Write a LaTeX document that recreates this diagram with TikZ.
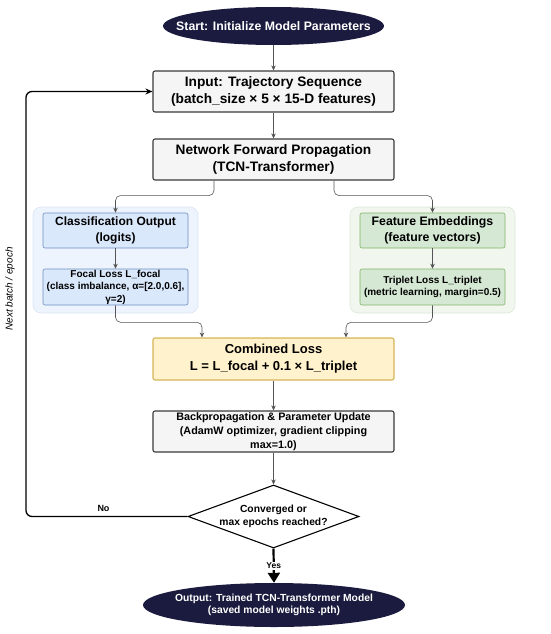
\documentclass[tikz,border=0pt]{standalone}
\usepackage{fontspec}
\setmainfont{Liberation Sans}
\usetikzlibrary{arrows.meta,shapes.geometric,calc}
\definecolor{navy}{HTML}{1B1B3F}
\definecolor{procfill}{HTML}{F5F5F5}
\definecolor{procline}{HTML}{3A3A3A}
\definecolor{clsfill}{HTML}{DAE8FC}
\definecolor{clsline}{HTML}{6C8EBF}
\definecolor{clsbg}{HTML}{EEF4FD}
\definecolor{clsbgline}{HTML}{D9E5F5}
\definecolor{embfill}{HTML}{D5E8D4}
\definecolor{embline}{HTML}{82B366}
\definecolor{embbg}{HTML}{F1F6EF}
\definecolor{embbgline}{HTML}{DCE9D8}
\definecolor{lossfill}{HTML}{FFF2CC}
\definecolor{lossline}{HTML}{D6B656}
\definecolor{flowgray}{HTML}{555555}
\newcommand{\fsz}[2]{\fontsize{#1}{#2}\selectfont\bfseries}

\begin{document}
\begin{tikzpicture}[x=1pt,y=1pt,
  terminal/.style={ellipse,fill=navy,text=white,inner xsep=-30pt,inner ysep=0pt,align=center},
  procbox/.style={draw=procline,fill=procfill,line width=1.1pt,rounded corners=2pt,
    minimum width=241pt,minimum height=41pt,inner sep=0pt,align=center},
  subbox/.style={draw=#1line,fill=#1fill,line width=0.6pt,rounded corners=2pt,
    minimum width=145pt,minimum height=35pt,inner sep=0pt,align=center},
  group/.style={draw=#1bgline,fill=#1bg,line width=0.6pt,rounded corners=8pt,
    minimum width=165pt,minimum height=106pt},
  decision/.style={diamond,draw=black,fill=white,line width=1.1pt,aspect=2.7,inner sep=0pt,
    minimum width=171pt,minimum height=63pt,align=center},
  flow/.style={draw=flowgray,line width=0.6pt,rounded corners=5pt,-{Stealth[length=5pt,width=4.5pt]}},
  loopline/.style={draw=black,line width=1.3pt,rounded corners=6pt,-{Stealth[length=7pt,width=6pt]}},
  yesflow/.style={draw=black,line width=2.2pt,-{Triangle[length=10pt,width=12pt]}},
]
  \useasboundingbox (0,0) rectangle (550,-634);

  \node[terminal,minimum width=221pt,minimum height=38pt,font=\fsz{12.3}{15}] (start) at (273.5,-26) {Start: Initialize Model Parameters};
  \node[procbox,font=\fsz{13.7}{17.5}] (in) at (273.5,-91.5) {Input: Trajectory Sequence\\(batch\_size × 5 × 15-D features)};
  \node[procbox,font=\fsz{13.7}{17.5}] (net) at (273.5,-159.5) {Network Forward Propagation\\(TCN-Transformer)};

  % Classification branch
  \node[group=cls] (clsgrp) at (115.5,-260) {};
  \node[subbox=cls,font=\fsz{12}{16}] (cls) at (115.5,-230.5) {Classification Output\\(logits)};
  \node[subbox=cls,minimum height=36pt,font=\fsz{10}{12.5}] (focal) at (115.5,-287) {Focal Loss L\_focal\\(class imbalance, α=[2.0,0.6],\\γ=2)};

  % Embedding branch
  \node[group=emb] (embgrp) at (432.5,-260) {};
  \node[subbox=emb,font=\fsz{12.3}{16}] (emb) at (432.5,-230.5) {Feature Embeddings\\(feature vectors)};
  \node[subbox=emb,minimum height=36pt,font=\fsz{10}{12}] (trip) at (432.5,-287) {Triplet Loss L\_triplet\\(metric learning, margin=0.5)};

  \node[procbox,fill=lossfill,draw=lossline,minimum height=42pt,font=\fsz{13}{17}] (comb) at (273.5,-359) {Combined Loss\\L = L\_focal + 0.1 × L\_triplet};
  \node[procbox,font=\fsz{10.8}{14}] (bp) at (273.5,-431.5) {Backpropagation \& Parameter Update\\(AdamW optimizer, gradient clipping\\max=1.0)};
  \node[decision,font=\fsz{10.3}{13}] (dec) at (273.5,-516.5) {Converged or\\max epochs reached?};
  \node[terminal,minimum width=262pt,minimum height=44pt,font=\fsz{10.3}{12.5}] (out) at (274,-605) {Output: Trained TCN-Transformer Model\\(saved model weights .pth)};

  \draw[flow] (start) -- (in);
  \draw[flow] (in) -- (net);
  \draw[flow] ([xshift=-59.5pt]net.south) -- ++(0,-15) -| (cls.north);
  \draw[flow] ([xshift=60.5pt]net.south) -- ++(0,-15) -| (emb.north);
  \draw[flow] (cls) -- (focal);
  \draw[flow] (emb) -- (trip);
  \draw[flow] (focal.south) -- ++(0,-17) -| ([xshift=-71.5pt]comb.north);
  \draw[flow] (trip.south) -- ++(0,-17) -| ([xshift=72.5pt]comb.north);
  \draw[flow] (comb) -- (bp);
  \draw[flow] (bp) -- (dec);

  % Loop back to the next batch
  \coordinate (back) at (26,-91.5);
  \draw[loopline] (dec.west) -| node[pos=0.26,above=1pt,font=\fsz{9}{11},text=black] {No} (back) -- (in.west);
  \node[rotate=90,font=\itshape\fontsize{10}{12}\selectfont] (looplbl) at (10,-289) {Next batch / epoch};

  \draw[yesflow] (dec.south) -- (out.north)
    node[midway,fill=white,inner sep=1pt,font=\fsz{8.5}{10}] {Yes};
\end{tikzpicture}
\end{document}
